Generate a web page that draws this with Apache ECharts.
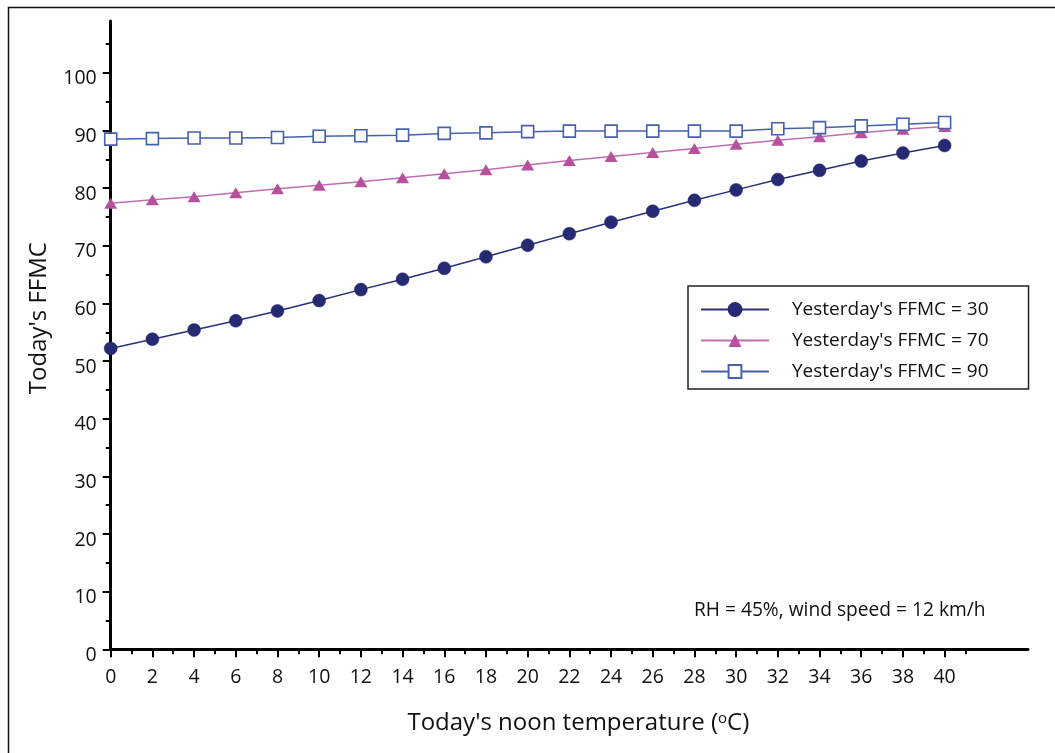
<!DOCTYPE html>
<html>
<head>
<meta charset="utf-8">
<script src="https://cdn.jsdelivr.net/npm/echarts@6/dist/echarts.min.js"></script>
<style>
html,body{margin:0;padding:0;background:#fff;}
#chart{width:1055px;height:753px;}
</style>
</head>
<body>
<div id="chart"></div>
<script>
const temperatures = [0,2,4,6,8,10,12,14,16,18,20,22,24,26,28,30,32,34,36,38,40];
const ffmc30 = [52.2,53.8,55.4,57.0,58.7,60.5,62.4,64.2,66.1,68.1,70.1,72.1,74.1,76.0,77.9,79.7,81.5,83.1,84.7,86.1,87.4];
const ffmc70 = [77.4,78.0,78.5,79.2,79.9,80.5,81.1,81.8,82.5,83.2,84.0,84.8,85.5,86.2,86.9,87.6,88.3,88.9,89.6,90.2,90.7];
const ffmc90 = [88.5,88.6,88.7,88.7,88.8,89.0,89.1,89.2,89.5,89.6,89.8,89.9,89.9,89.9,89.9,89.9,90.3,90.5,90.8,91.1,91.4];
const seriesNames = ["Yesterday's FFMC = 30","Yesterday's FFMC = 70","Yesterday's FFMC = 90"];
const xMajorTicks = [0,2,4,6,8,10,12,14,16,18,20,22,24,26,28,30,32,34,36,38,40];
const xMinorTicks = [1,3,5,7,9,11,13,15,17,19,21,23,25,27,29,31,33,35,37,39,41];
const yMajorTicks = [0,10,20,30,40,50,60,70,80,90,100];
const yMinorTicks = [5,15,25,35,45,55,65,75,85,95,105];
const note = 'RH = 45%, wind speed = 12 km/h';

const FONT = '"Open Sans", "Noto Sans", sans-serif';
const pair = (arr) => temperatures.map((t, i) => [t, arr[i]]);

const chart = echarts.init(document.getElementById('chart'), null, {renderer: 'canvas'});
chart.setOption({
  animation: false,
  backgroundColor: '#fff',
  textStyle: {fontFamily: FONT, color: '#111'},
  grid: {left: 110.7, right: 27, top: 21, bottom: 103.7, containLabel: false},
  graphic: [
    {type: 'rect', left: 6, top: 5, shape: {width: 1100, height: 800}, silent: true,
     style: {fill: 'none', stroke: '#111', lineWidth: 1.5}, z: -10},
    {type: 'text', left: 694, top: 601, silent: true,
     style: {text: note, font: '19.2px ' + FONT, fill: '#111'}}
  ],
  legend: {
    orient: 'vertical',
    left: 688, top: 286,
    itemWidth: 68, itemHeight: 16, itemGap: 12,
    padding: [14, 40, 8, 12],
    borderColor: '#222', borderWidth: 1.5, backgroundColor: '#fff',
    textStyle: {fontFamily: FONT, fontSize: 19, color: '#111', padding: [0,0,0,18]},
    data: seriesNames
  },
  xAxis: [
    {
      type: 'value', min: 0, max: 44, interval: 2,
      name: "Today's noon temperature ({s|o}C)",
      nameLocation: 'middle', nameGap: 62,
      nameTextStyle: {fontFamily: FONT, fontSize: 24, color: '#111', padding: [0,0,0,18],
        rich: {s: {fontFamily: FONT, fontSize: 15, color: '#111', verticalAlign: 'top', padding: [0,0,8,0]}}},
      axisLine: {show: true, onZero: false, lineStyle: {color: '#000', width: 3}},
      axisTick: {show: true, length: 8, lineStyle: {color: '#000', width: 2}, customValues: xMajorTicks},
      axisLabel: {fontFamily: FONT, fontSize: 19.5, color: '#111', margin: 18, customValues: xMajorTicks},
      splitLine: {show: false}
    },
    {
      type: 'value', min: 0, max: 44, position: 'bottom',
      axisLine: {show: false},
      axisTick: {show: true, length: 5, lineStyle: {color: '#000', width: 2}, customValues: xMinorTicks},
      axisLabel: {show: false},
      splitLine: {show: false}
    }
  ],
  yAxis: [
    {
      type: 'value', min: 0, max: 109, interval: 10,
      name: "Today's FFMC",
      nameLocation: 'middle', nameGap: 60, nameRotate: 90,
      nameTextStyle: {fontFamily: FONT, fontSize: 24, color: '#111', padding: [0,0,0,34]},
      axisLine: {show: true, onZero: false, lineStyle: {color: '#000', width: 3}},
      axisTick: {show: true, length: 8, lineStyle: {color: '#000', width: 2}, customValues: yMajorTicks},
      axisLabel: {fontFamily: FONT, fontSize: 19.5, color: '#111', margin: 14,
        verticalAlign: 'top', lineHeight: 12, customValues: yMajorTicks},
      splitLine: {show: false}
    },
    {
      type: 'value', min: 0, max: 109, position: 'left',
      axisLine: {show: false},
      axisTick: {show: true, length: 5, lineStyle: {color: '#000', width: 2}, customValues: yMinorTicks},
      axisLabel: {show: false},
      splitLine: {show: false}
    }
  ],
  series: [
    {
      name: seriesNames[0], type: 'line', data: pair(ffmc30),
      symbol: 'circle', symbolSize: 13,
      itemStyle: {color: '#262a73', borderColor: '#262a73', borderWidth: 0.5},
      lineStyle: {color: '#2b2f78', width: 1.5}
    },
    {
      name: seriesNames[1], type: 'line', data: pair(ffmc70),
      symbol: 'triangle', symbolSize: [13, 11],
      itemStyle: {color: '#b5529d'},
      lineStyle: {color: '#c16cb0', width: 1.5}
    },
    {
      name: seriesNames[2], type: 'line', data: pair(ffmc90),
      symbol: 'rect', symbolSize: 12,
      itemStyle: {color: '#ffffff', borderColor: '#4560ad', borderWidth: 1.6},
      lineStyle: {color: '#4560ad', width: 1.5}
    }
  ]
});
</script>
</body>
</html>
